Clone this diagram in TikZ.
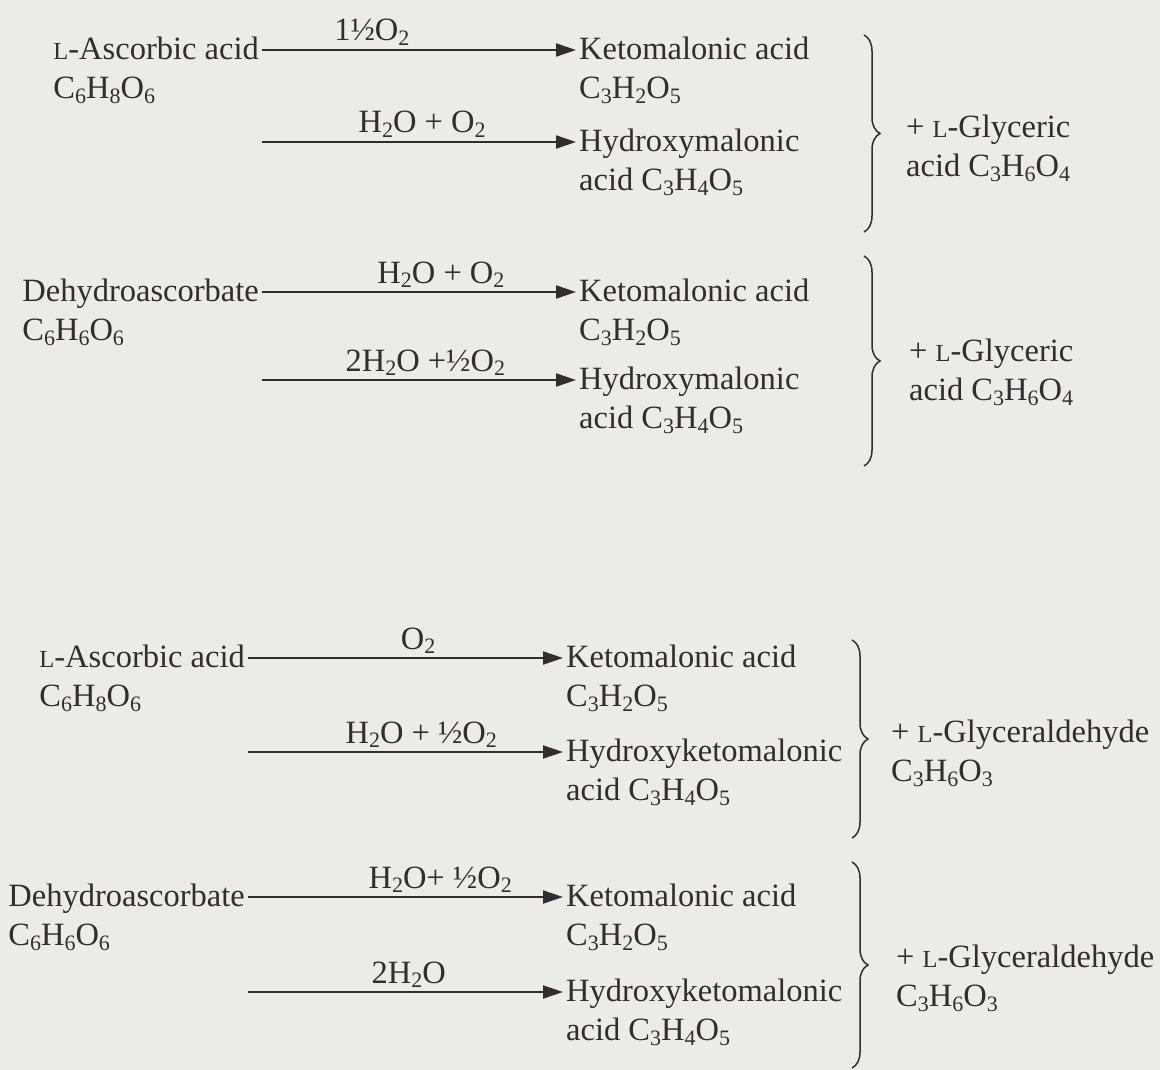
\documentclass[tikz,border=0pt]{standalone}
\usepackage{fontspec}
\setmainfont{Liberation Serif}
\usepackage{tikz}
\usetikzlibrary{positioning,arrows.meta,decorations.pathreplacing}
\definecolor{paper}{RGB}{235,235,233}
\definecolor{ink}{RGB}{48,46,46}
\newcommand\chs[1]{\raisebox{-0.3ex}{\fontsize{22}{22}\selectfont #1}}
\newcommand\lsc{{\fontsize{24.5}{25}\selectfont L}}

\begin{document}
\begin{tikzpicture}[x=1pt, y=-1pt,
  chem/.style={inner xsep=3pt, inner ysep=5pt, text height=24pt, text depth=5pt,
               font=\fontsize{32.5}{39}\selectfont, text=ink},
  lbl/.style={chem, above=2pt, inner ysep=1pt},
  rxn/.style={-{Triangle[length=20pt,width=13pt]}, line width=2pt, draw=ink},
  brc/.style={decorate, decoration={brace, amplitude=16pt}, line width=1.5pt, draw=ink}
]
\fill[paper] (0,0) rectangle (1160,1070);

% L-ascorbic acid -> L-glyceric acid
\node[chem, anchor=east] (asc1) at (262,50) {\lsc-Ascorbic acid};
\node[chem, below=0pt of asc1.south west, anchor=north west] (asc1f) {C\chs{6}H\chs{8}O\chs{6}};
\node[chem, anchor=west] (ket1) at (576,50) {Ketomalonic acid};
\node[chem, below=0pt of ket1.south west, anchor=north west] (ket1f) {C\chs{3}H\chs{2}O\chs{5}};
\node[chem, anchor=west] (hyd1) at (576,142) {Hydroxymalonic};
\node[chem, below=0pt of hyd1.south west, anchor=north west] (hyd1f) {acid C\chs{3}H\chs{4}O\chs{5}};
\node[chem, anchor=west] (gly1) at (903,128) {+ \lsc-Glyceric};
\node[chem, below=0pt of gly1.south west, anchor=north west] (gly1f) {acid C\chs{3}H\chs{6}O\chs{4}};
\coordinate (h1s) at (262,142);
\coordinate (b1t) at (864,35);
\coordinate (b1b) at (864,232);

\draw[rxn] (asc1) -- (ket1) node[lbl, pos=.35] (l1a) {1½O\chs{2}};
\draw[rxn] (h1s) -- (hyd1) node[lbl, pos=.51] (l1b) {H\chs{2}O + O\chs{2}};
\draw[brc] (b1t) -- (b1b);

% dehydroascorbate -> L-glyceric acid
\node[chem, anchor=east] (dha2) at (262,292) {Dehydroascorbate};
\node[chem, below=0pt of dha2.south west, anchor=north west] (dha2f) {C\chs{6}H\chs{6}O\chs{6}};
\node[chem, anchor=west] (ket2) at (576,292) {Ketomalonic acid};
\node[chem, below=0pt of ket2.south west, anchor=north west] (ket2f) {C\chs{3}H\chs{2}O\chs{5}};
\node[chem, anchor=west] (hyd2) at (576,380) {Hydroxymalonic};
\node[chem, below=0pt of hyd2.south west, anchor=north west] (hyd2f) {acid C\chs{3}H\chs{4}O\chs{5}};
\node[chem, anchor=west] (gly2) at (906,352) {+ \lsc-Glyceric};
\node[chem, below=0pt of gly2.south west, anchor=north west] (gly2f) {acid C\chs{3}H\chs{6}O\chs{4}};
\coordinate (h2s) at (262,380);
\coordinate (b2t) at (864,256);
\coordinate (b2b) at (864,466);

\draw[rxn] (dha2) -- (ket2) node[lbl, pos=.57] (l2a) {H\chs{2}O + O\chs{2}};
\draw[rxn] (h2s) -- (hyd2) node[lbl, pos=.52] (l2b) {2H\chs{2}O +½O\chs{2}};
\draw[brc] (b2t) -- (b2b);

% L-ascorbic acid -> L-glyceraldehyde
\node[chem, anchor=east] (asc3) at (248,658) {\lsc-Ascorbic acid};
\node[chem, below=0pt of asc3.south west, anchor=north west] (asc3f) {C\chs{6}H\chs{8}O\chs{6}};
\node[chem, anchor=west] (ket3) at (563,658) {Ketomalonic acid};
\node[chem, below=0pt of ket3.south west, anchor=north west] (ket3f) {C\chs{3}H\chs{2}O\chs{5}};
\node[chem, anchor=west] (hyd3) at (563,752) {Hydroxyketomalonic};
\node[chem, below=0pt of hyd3.south west, anchor=north west] (hyd3f) {acid C\chs{3}H\chs{4}O\chs{5}};
\node[chem, anchor=west] (gly3) at (888,733) {+ \lsc-Glyceraldehyde};
\node[chem, below=0pt of gly3.south west, anchor=north west] (gly3f) {C\chs{3}H\chs{6}O\chs{3}};
\coordinate (h3s) at (248,752);
\coordinate (b3t) at (852,640);
\coordinate (b3b) at (852,838);

\draw[rxn] (asc3) -- (ket3) node[lbl, pos=.54] (l3a) {O\chs{2}};
\draw[rxn] (h3s) -- (hyd3) node[lbl, pos=.55] (l3b) {H\chs{2}O + ½O\chs{2}};
\draw[brc] (b3t) -- (b3b);

% dehydroascorbate -> L-glyceraldehyde
\node[chem, anchor=east] (dha4) at (248,897) {Dehydroascorbate};
\node[chem, below=0pt of dha4.south west, anchor=north west] (dha4f) {C\chs{6}H\chs{6}O\chs{6}};
\node[chem, anchor=west] (ket4) at (563,897) {Ketomalonic acid};
\node[chem, below=0pt of ket4.south west, anchor=north west] (ket4f) {C\chs{3}H\chs{2}O\chs{5}};
\node[chem, anchor=west] (hyd4) at (563,992) {Hydroxyketomalonic};
\node[chem, below=0pt of hyd4.south west, anchor=north west] (hyd4f) {acid C\chs{3}H\chs{4}O\chs{5}};
\node[chem, anchor=west] (gly4) at (893,958) {+ \lsc-Glyceraldehyde};
\node[chem, below=0pt of gly4.south west, anchor=north west] (gly4f) {C\chs{3}H\chs{6}O\chs{3}};
\coordinate (h4s) at (248,992);
\coordinate (b4t) at (852,862);
\coordinate (b4b) at (852,1068);

\draw[rxn] (dha4) -- (ket4) node[lbl, pos=.61] (l4a) {H\chs{2}O+ ½O\chs{2}};
\draw[rxn] (h4s) -- (hyd4) node[lbl, pos=.51] (l4b) {2H\chs{2}O};
\draw[brc] (b4t) -- (b4b);

\end{tikzpicture}
\end{document}
